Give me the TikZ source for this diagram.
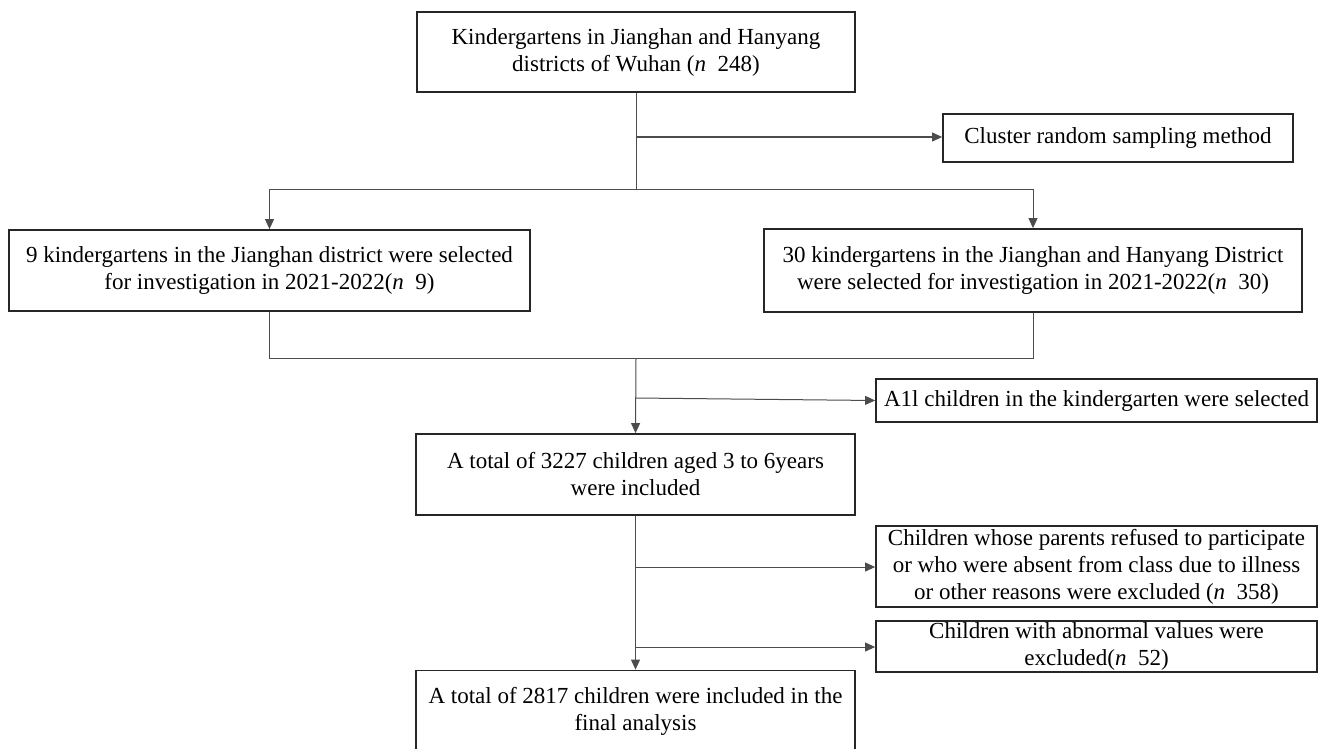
\documentclass[tikz,border=0pt]{standalone}
\usepackage{fontspec}
\setmainfont{Liberation Serif}
\usetikzlibrary{arrows.meta}
\begin{document}
\begin{tikzpicture}[x=1pt,y=-1pt,
  box/.style={draw=black!85, line width=1.8pt, align=center, inner sep=0pt,
    font=\fontsize{23}{27}\selectfont},
  conn/.style={draw=black!70, line width=1pt},
  arr/.style={conn,-{Triangle[length=10pt,width=9pt]}}]
\useasboundingbox (0,0) rectangle (1319,749);
\node[box, minimum width=438pt, minimum height=80pt] (top) at (636,52)
  {Kindergartens in Jianghan and Hanyang\\districts of Wuhan (\textit{n}\ \ 248)};
\node[box, minimum width=350pt, minimum height=48pt] (cluster) at (1118,138)
  {Cluster random sampling method};
\node[box, minimum width=521pt, minimum height=81pt] (left) at (269.5,270.5)
  {9 kindergartens in the Jianghan district were selected\\for investigation in 2021-2022(\textit{n}\ \ 9)};
\node[box, minimum width=538pt, minimum height=83pt] (right) at (1033,270.5)
  {30 kindergartens in the Jianghan and Hanyang District\\were selected for investigation in 2021-2022(\textit{n}\ \ 30)};
\node[box, minimum width=441pt, minimum height=43pt] (all) at (1096.5,400.5)
  {A1l children in the kindergarten were selected};
\node[box, minimum width=439pt, minimum height=81pt] (incl) at (635.5,474.5)
  {A total of 3227 children aged 3 to 6years\\were included};
\node[box, minimum width=441pt, minimum height=81pt] (refuse) at (1096.5,566.5)
  {Children whose parents refused to participate\\or who were absent from class due to illness\\or other reasons were excluded (\textit{n}\ \ 358)};
\node[box, minimum width=441pt, minimum height=51pt] (abn) at (1096.5,646.5)
  {Children with abnormal values were\\excluded(\textit{n}\ \ 52)};
\node[box, minimum width=439pt, minimum height=81pt] (final) at (635.5,711)
  {A total of 2817 children were included in the\\final analysis};
% junctions
\coordinate (j1) at (top.south |- 0,137);
\coordinate (j2) at (top.south |- 0,189);
\coordinate (j3) at (top.south |- 0,358);
\coordinate (j4) at (incl.north |- 0,398);
\coordinate (j5) at (incl.south |- 0,567);
\coordinate (j6) at (incl.south |- 0,647);
\draw[conn] (top.south) -- (j2);
\draw[arr] (j1) -- (cluster.west |- j1);
\draw[conn] (left.north |- j2) -- (right.north |- j2);
\draw[arr] (left.north |- j2) -- (left.north);
\draw[arr] (right.north |- j2) -- (right.north);
\draw[conn] (left.south) -- (left.south |- j3) -- (right.south |- j3) -- (right.south);
\draw[arr] (j3) -- (incl.north);
\draw[arr] (j4) -- (all.west);
\draw[arr] (incl.south) -- (final.north);
\draw[arr] (j5) -- (refuse.west |- j5);
\draw[arr] (j6) -- (abn.west |- j6);
\end{tikzpicture}
\end{document}
